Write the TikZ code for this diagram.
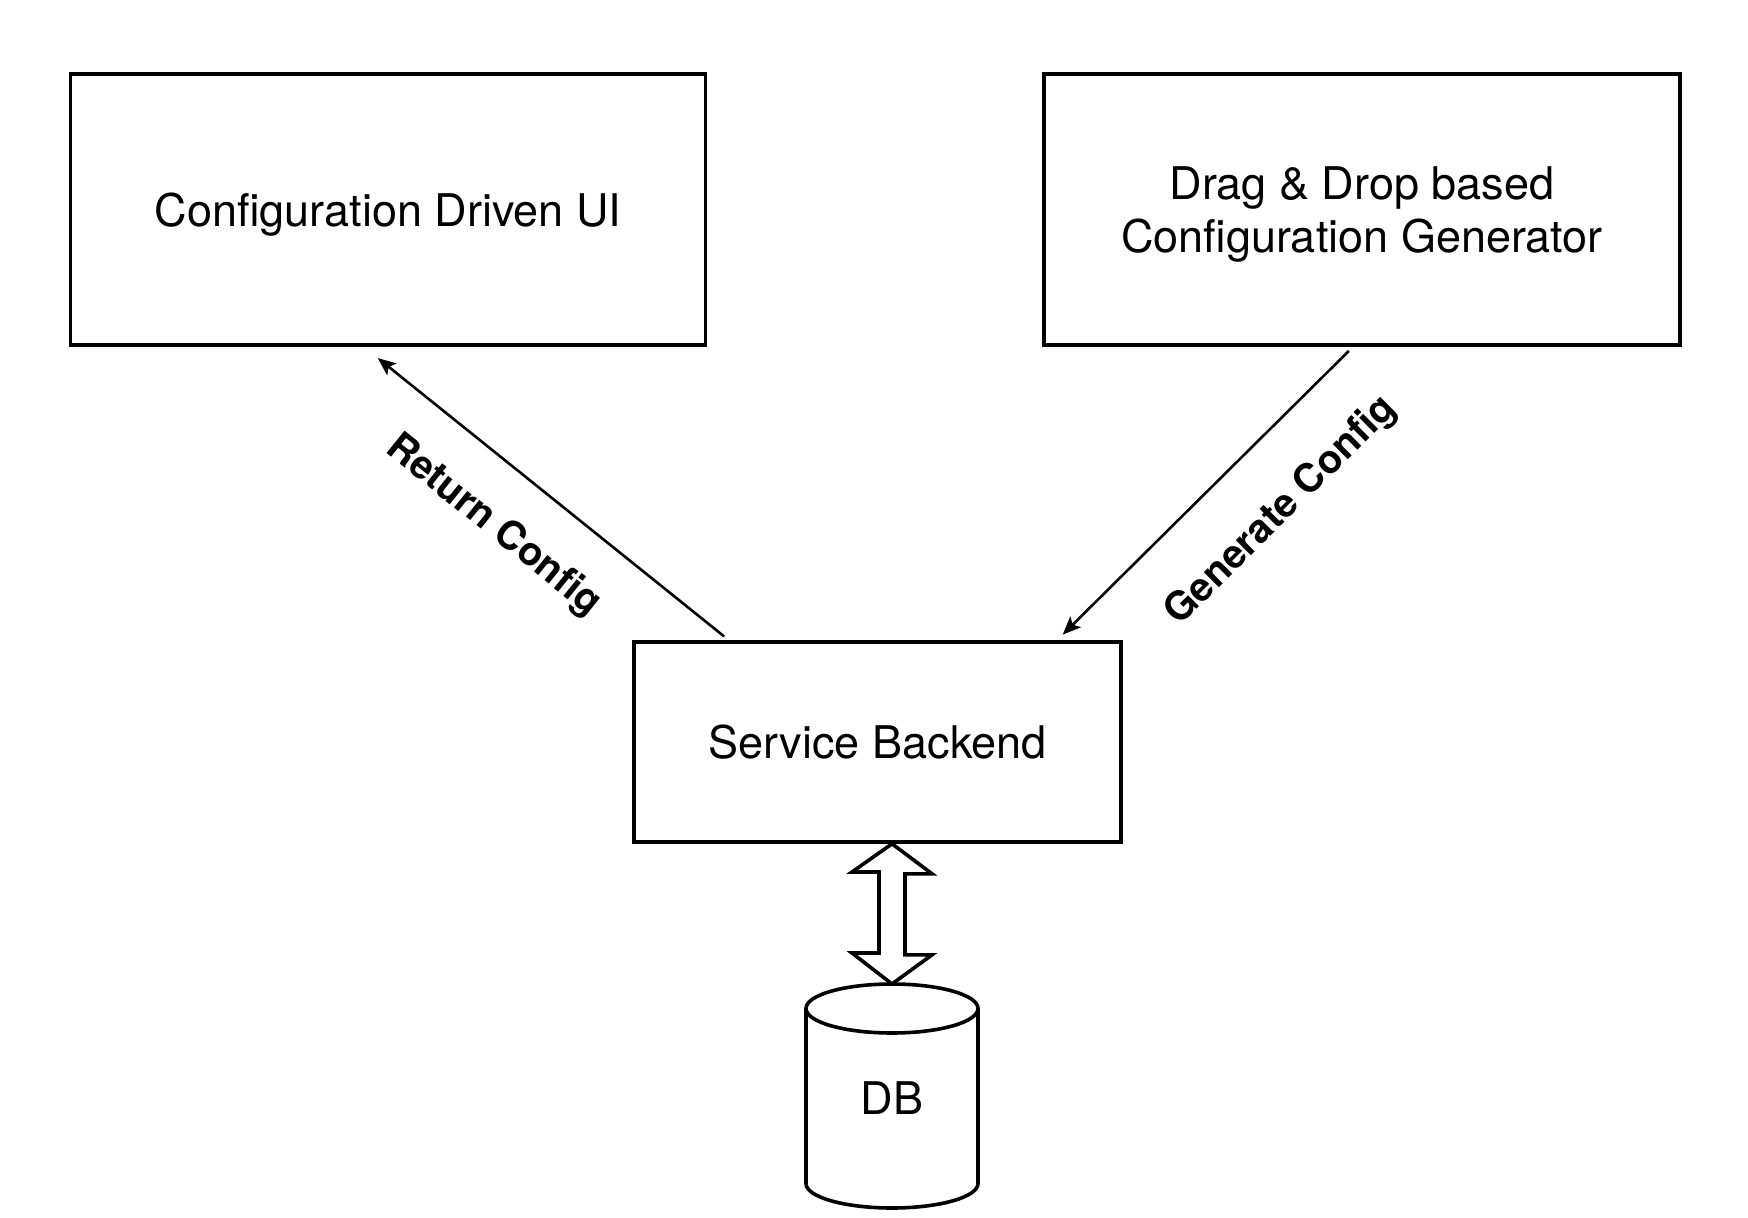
\documentclass[tikz,border=0pt]{standalone}
\usepackage{fontspec}
\setmainfont{TeX Gyre Heros}
\usetikzlibrary{calc, arrows.meta}
\tikzset{
block/.style={draw, line width=1.8pt, minimum width=317.5pt, minimum height=135.5pt,
  align=center, text depth=0pt, font=\fontsize{22.5}{26.5}\selectfont},
flow/.style={line width=1.3pt, -{Stealth[length=9pt, width=7.5pt, inset=2pt]}},
flowlabel/.style={sloped, below=10pt, inner sep=0pt, font=\fontsize{19.75}{24}\selectfont\bfseries},
dbline/.style={line width=1.8pt},
dblink/.style={line width=1.8pt, line join=miter}
}
\begin{document}
\begin{tikzpicture}[x=0.5pt, y=-0.5pt]
\useasboundingbox (0,0) rectangle (1748,1218);
\node[block] (ui) at (388,209.5) {Configuration Driven UI};
\node[block, minimum width=318pt] (gen) at (1362,209.5) {Drag \& Drop based\\Configuration Generator};
\node[block, minimum width=243.5pt, minimum height=100pt] (svc) at (877.5,742) {Service Backend};
\coordinate (dbtop) at (892,984);
\draw[dbline] (806,1008.5) -- (806,1183.5) arc[start angle=180, end angle=0, x radius=86, y radius=24.5] -- (978,1008.5);
\draw[dbline, fill=white] (892,1008.5) ellipse [x radius=86, y radius=24.5];
\node[font=\fontsize{22.5}{26.5}\selectfont] (db) at (892,1098) {DB};
\draw[flow, shorten <=3pt, shorten >=9pt] ($(svc.north west)!0.197!(svc.north east)$)
  -- node[flowlabel, pos=0.545, below=9pt] {Return Config} ($(ui.south west)!0.462!(ui.south east)$);
\draw[flow, shorten <=3pt, shorten >=4pt] ($(gen.south west)!0.486!(gen.south east)$)
  -- node[flowlabel, pos=0.40, below=13pt] {Generate Config} ($(svc.north west)!0.866!(svc.north east)$);
\draw[dblink] (svc.south -| dbtop) -- ++(40,30) -- ++(-27,0) -- ++(0,81) -- ++(27,0) -- (dbtop)
  -- ++(-40,-31) -- ++(27,0) -- ++(0,-81) -- ++(-27,0) -- cycle;
\end{tikzpicture}
\end{document}
